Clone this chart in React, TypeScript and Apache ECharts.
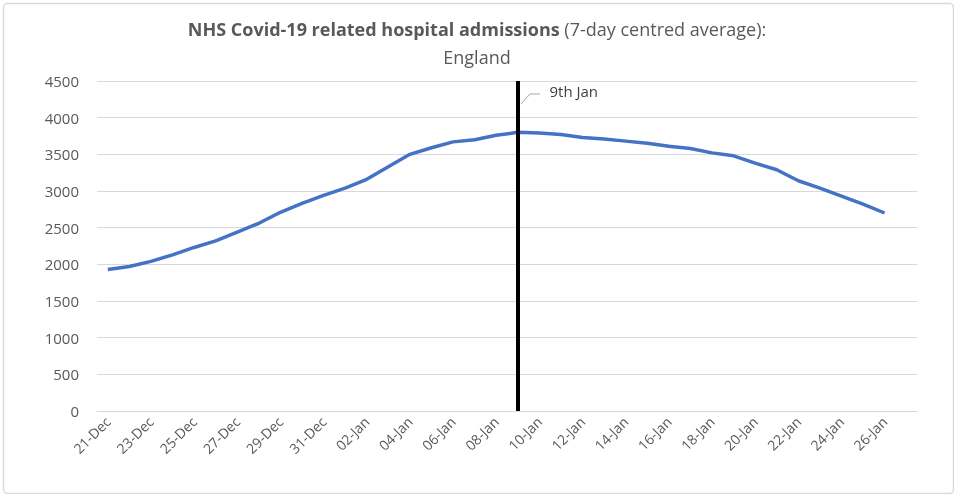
import { useEffect, useRef } from 'react'
import * as echarts from 'echarts'

const days = [
  '21-Dec', '22-Dec', '23-Dec', '24-Dec', '25-Dec', '26-Dec', '27-Dec', '28-Dec', '29-Dec', '30-Dec', '31-Dec',
  '01-Jan', '02-Jan', '03-Jan', '04-Jan', '05-Jan', '06-Jan', '07-Jan', '08-Jan', '09-Jan', '10-Jan',
  '11-Jan', '12-Jan', '13-Jan', '14-Jan', '15-Jan', '16-Jan', '17-Jan', '18-Jan', '19-Jan', '20-Jan',
  '21-Jan', '22-Jan', '23-Jan', '24-Jan', '25-Jan', '26-Jan', '27-Jan',
]
const admissions = [
  1930, 1970, 2040, 2130, 2230, 2320, 2440, 2560, 2710, 2830, 2940,
  3040, 3160, 3330, 3500, 3590, 3670, 3700, 3760, 3800, 3790,
  3770, 3730, 3710, 3680, 3650, 3610, 3580, 3520, 3480, 3380,
  3290, 3140, 3040, 2930, 2820, 2700,
]
const markDay = '09-Jan'

export default function App() {
  const ref = useRef<HTMLDivElement>(null)

  useEffect(() => {
    if (!ref.current) return
    const chart = echarts.init(ref.current, undefined, { renderer: 'svg' })
    const font = '"Open Sans", sans-serif'
    chart.setOption({
      animation: false,
      textStyle: { fontFamily: font },
      title: {
        left: 'center',
        top: 10,
        text: '{b|NHS Covid-19 related hospital admissions} {n|(7-day centred average):}\n{n|England}',
        textStyle: {
          rich: {
            b: { fontSize: 18, fontWeight: 'bold', color: '#595959', fontFamily: font, lineHeight: 28 },
            n: { fontSize: 18, fontWeight: 'normal', color: '#595959', fontFamily: font, lineHeight: 28 },
          },
        },
      },
      grid: { left: 97, right: 37, top: 81, bottom: 83 },
      xAxis: {
        type: 'category',
        data: days,
        boundaryGap: true,
        axisLine: { lineStyle: { color: '#d9d9d9' } },
        axisTick: { interval: 1, lineStyle: { color: '#d9d9d9' }, length: 5 },
        axisLabel: { interval: 1, rotate: 45, color: '#595959', fontSize: 14, margin: 8 },
      },
      yAxis: {
        type: 'value',
        min: 0,
        max: 4500,
        interval: 500,
        axisLine: { show: false },
        axisTick: { show: false },
        axisLabel: { color: '#595959', fontSize: 15, margin: 18, formatter: (v: number) => String(v) },
        splitLine: { lineStyle: { color: '#d9d9d9' } },
      },
      series: [
        {
          type: 'line',
          data: admissions,
          symbol: 'none',
          lineStyle: { color: '#4472c4', width: 3.5 },
          markLine: {
            silent: true,
            symbol: 'none',
            data: [{ xAxis: markDay }],
            lineStyle: { color: '#000', width: 4, type: 'solid' },
            label: {
              position: 'end',
              formatter: '9th Jan',
              color: '#404040',
              fontSize: 15,
              offset: [56, 22],
            },
          },
        },
      ],
      graphic: [
        {
          type: 'rect',
          left: 1,
          top: 1,
          shape: { width: 950, height: 490, r: 4 },
          style: { fill: 'none', stroke: '#d9d9d9', lineWidth: 1.5 },
          silent: true,
        },
        {
          type: 'polyline',
          shape: { points: [[521, 104], [530, 94], [540, 94]] },
          style: { stroke: '#a6a6a6', lineWidth: 1, fill: 'none' },
          silent: true,
        },
      ],
    })
    return () => chart.dispose()
  }, [])

  return <div ref={ref} style={{ width: 954, height: 494, position: 'fixed', left: 0, top: 0 }} />
}
